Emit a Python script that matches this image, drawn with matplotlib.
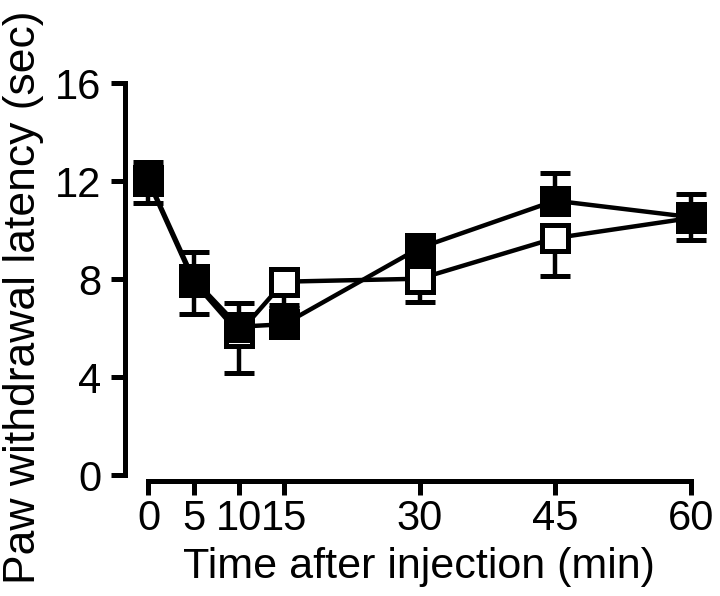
import matplotlib
matplotlib.use("Agg")
import matplotlib.pyplot as plt
import numpy as np

plt.rcParams['font.family'] = ['Liberation Sans', 'DejaVu Sans']

# Data
time_min = [0, 5, 10, 15, 30, 45, 60]
filled_mean = [12.06, 8.0, 6.06, 6.16, 9.28, 11.21, 10.54]
filled_err_up = [0.75, 1.1, 0.98, 0.67, 0.4, 1.15, 0.95]
open_mean = [12.0, 7.9, 5.79, 7.90, 8.02, 9.68, 10.5]
open_err_down = [0.87, 1.32, 1.61, 0.95, 0.96, 1.54, 0.89]
x_ticks = [0, 5, 10, 15, 30, 45, 60]
y_ticks = [0, 4, 8, 12, 16]

fig = plt.figure(figsize=(7.2, 5.96), dpi=100)
ax = fig.add_axes([0.1736, 0.203, 0.817, 0.657])

lw = 3.2
ms = 18.5
mew = 3.6
capsize = 10.5

# Open series (drawn first, underneath)
ax.errorbar(time_min, open_mean, yerr=[open_err_down, [0]*len(open_err_down)],
            fmt='s-', color='black', mfc='white', mec='black', ms=ms, mew=mew,
            lw=lw, elinewidth=lw, capsize=capsize, capthick=lw, clip_on=False, zorder=3)
# Filled series
ax.errorbar(time_min, filled_mean, yerr=[[0]*len(filled_err_up), filled_err_up],
            fmt='s-', color='black', mfc='black', mec='black', ms=ms, mew=mew,
            lw=lw, elinewidth=lw, capsize=capsize, capthick=lw, clip_on=False, zorder=4)

ax.set_xlim(-2.6, 62.5)
ax.set_ylim(0, 16)
ax.set_xticks(x_ticks)
ax.set_xticklabels([str(v) for v in x_ticks])
ax.set_yticks(y_ticks)
ax.set_yticklabels([str(v) for v in y_ticks])

for s in ['top', 'right']:
    ax.spines[s].set_visible(False)
ax.spines['left'].set_linewidth(3.6)
ax.spines['bottom'].set_linewidth(3.6)
ax.spines['bottom'].set_bounds(0, 60)
ax.spines['bottom'].set_position(('outward', 4))
ax.spines['left'].set_bounds(0, 16)
ax.spines['left'].set_capstyle('projecting')
ax.spines['bottom'].set_capstyle('projecting')

ax.tick_params(axis='both', direction='out', length=10, width=3.6, labelsize=30, colors='black')
ax.tick_params(axis='y', pad=7)
ax.tick_params(axis='x', pad=3)

ax.set_xlabel('Time after injection (min)', fontsize=31, labelpad=6)
ax.set_ylabel('Paw withdrawal latency (sec)', fontsize=32, labelpad=6)
ax.yaxis.set_label_coords(-0.137, 0.455)

fig.savefig('out.png', dpi=100)
